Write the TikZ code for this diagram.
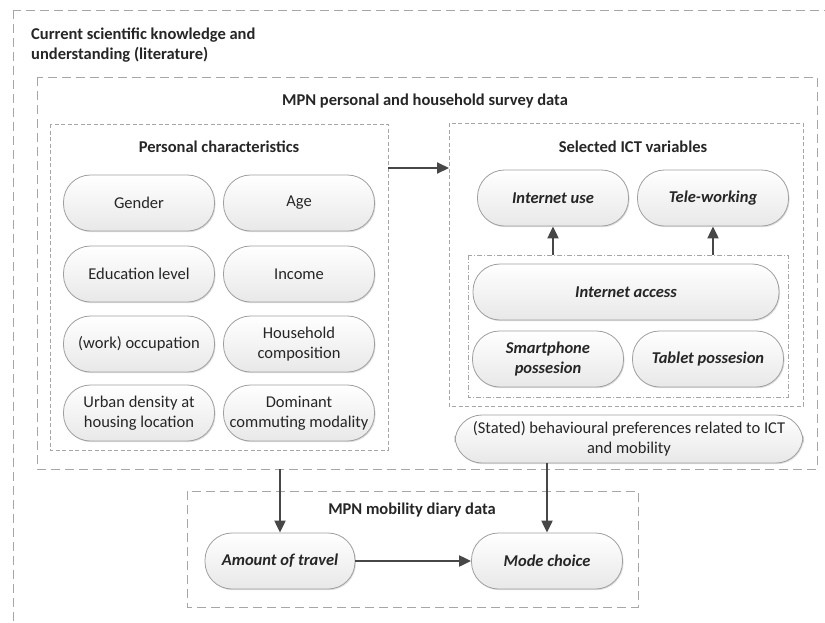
\documentclass[tikz,border=0pt]{standalone}
\usepackage{fontspec}
\setmainfont{Carlito}
\usetikzlibrary{arrows.meta,shadows}
\begin{document}
\begin{tikzpicture}[x=1pt,y=-1pt,
  pill/.style={rectangle, rounded corners=27pt, draw=gray!75, line width=0.8pt,
    top color=white, bottom color=gray!18, align=center, text=black!85,
    font=\fontsize{16.5}{20}\selectfont, inner sep=1pt,
    drop shadow={shadow xshift=1pt, shadow yshift=-1.2pt, opacity=0.25, fill=gray}},
  ictpill/.style={pill, font=\fontsize{16.5}{20}\selectfont\bfseries\itshape},
  bigdash/.style={draw=gray!70, line width=0.9pt, dash pattern=on 9pt off 5pt},
  smalldash/.style={draw=gray!70, line width=0.8pt, dash pattern=on 4pt off 2.5pt},
  dashdot/.style={draw=gray!70, line width=0.8pt, dash pattern=on 5pt off 2pt on 1pt off 2pt},
  heading/.style={font=\fontsize{16.5}{20}\selectfont\bfseries, text=black!85},
  flow/.style={draw=black!72, line width=2pt, -{Triangle[length=12pt,width=11pt]}}]
\useasboundingbox (0,0) rectangle (825,622);
\fill[white] (0,0) rectangle (825,622);

% framing boxes
\draw[bigdash] (13,10) rectangle (840,650);
\node[heading, anchor=north west, align=left, inner sep=0pt] (lit) at (31,28)
  {Current scientific knowledge and\\understanding (literature)};

\draw[bigdash] (37,77) rectangle (817,469);
\coordinate (survey) at (280,469);
\node[heading] (surveyt) at (425,101) {MPN personal and household survey data};

\draw[smalldash] (50,124) rectangle (388,450);
\coordinate (persR) at (388,168);
\node[heading] (perst) at (219,147) {Personal characteristics};

\draw[smalldash] (449,123) rectangle (803,406);
\coordinate (ictL) at (449,168);
\node[heading] (ictt) at (633,147) {Selected ICT variables};

\draw[dashdot] (468,255) rectangle (788,397);
\coordinate (accA) at (553,255);
\coordinate (accB) at (713,255);

\draw[bigdash] (187,491) rectangle (638,607);
\node[heading] (mobt) at (412,510) {MPN mobility diary data};

% personal characteristics
\node[pill, minimum width=151pt, minimum height=56pt] (gender) at (139,203) {Gender};
\node[pill, minimum width=151pt, minimum height=56pt] (age) at (299,203) {Age};
\node[pill, minimum width=151pt, minimum height=56pt] (edu) at (139,274) {Education level};
\node[pill, minimum width=151pt, minimum height=56pt] (income) at (299,274) {Income};
\node[pill, minimum width=151pt, minimum height=56pt] (occ) at (139,344) {(work) occupation};
\node[pill, minimum width=151pt, minimum height=56pt] (house) at (299,344) {Household\\composition};
\node[pill, minimum width=151pt, minimum height=56pt] (urban) at (139,413) {Urban density at\\housing location};
\node[pill, minimum width=151pt, minimum height=56pt] (commute) at (299,413) {Dominant\\commuting modality};

% ICT variables
\node[ictpill, minimum width=151pt, minimum height=56pt] (iuse) at (553,198) {Internet use};
\node[ictpill, minimum width=151pt, minimum height=56pt] (tele) at (713,198) {Tele-working};
\node[ictpill, minimum width=306pt, minimum height=56pt] (iacc) at (626,292) {Internet access};
\node[ictpill, minimum width=151pt, minimum height=56pt] (phone) at (548,359) {Smartphone\\possesion};
\node[ictpill, minimum width=151pt, minimum height=56pt] (tablet) at (708,359) {Tablet possesion};

\node[pill, minimum width=348pt, minimum height=48pt] (pref) at (629,439)
  {(Stated) behavioural preferences related to ICT\\and mobility};

% mobility diary
\node[ictpill, minimum width=150pt, minimum height=56pt] (amount) at (280,561) {Amount of travel};
\node[ictpill, minimum width=151pt, minimum height=56pt] (mode) at (547,561) {Mode choice};

% connectors
\draw[flow] (persR) -- (ictL);
\draw[flow] (accA) -- (iuse.south);
\draw[flow] (accB) -- (tele.south);
\draw[flow] (survey) -- (amount.north);
\draw[flow] (pref.south -| mode.north) -- (mode.north);
\draw[flow] (amount) -- (mode);
\end{tikzpicture}
\end{document}
